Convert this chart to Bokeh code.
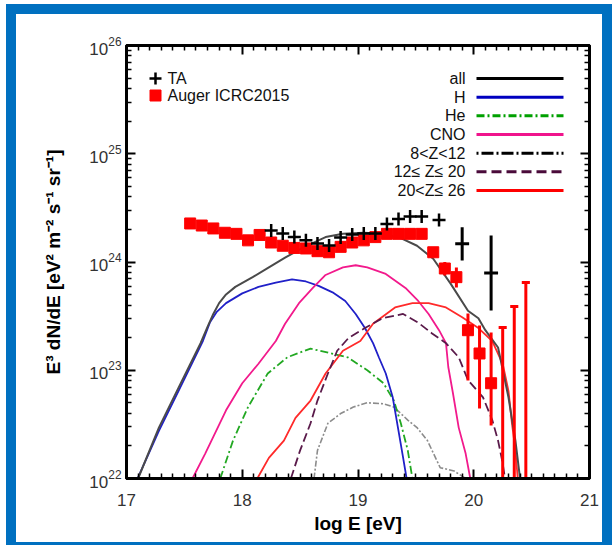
from bokeh.plotting import figure
from bokeh.models import FixedTicker, LinearAxis, LogAxis
from bokeh.embed import file_html
from bokeh.resources import INLINE
from bokeh.core.properties import value

# ---------------- data (log10 E [eV], log10 E^3 dN/dE) ----------------
all_x = [17.10, 17.28, 17.45, 17.64, 17.70, 17.75, 17.80, 17.86, 17.94, 18.09, 18.23, 18.37,
         18.52, 18.72, 18.87, 19.05, 19.22, 19.37, 19.51, 19.65, 19.80, 19.95, 20.04, 20.10,
         20.21, 20.30, 20.36, 20.40]
all_ly = [22.0, 22.47, 22.84, 23.25, 23.40, 23.52, 23.62, 23.70, 23.77, 23.86, 23.95, 24.04,
          24.13, 24.23, 24.26, 24.27, 24.26, 24.22, 24.15, 24.03, 23.80, 23.55, 23.48, 23.37,
          23.21, 22.75, 22.35, 22.0]

h_x = [17.10, 17.28, 17.45, 17.66, 17.72, 17.78, 17.86, 18.00, 18.14, 18.29, 18.43, 18.55,
       18.66, 18.78, 18.89, 18.98, 19.06, 19.13, 19.18, 19.24, 19.30, 19.35, 19.39, 19.42]
h_ly = [22.01, 22.44, 22.81, 23.27, 23.44, 23.54, 23.62, 23.71, 23.77, 23.81, 23.84, 23.82,
        23.78, 23.72, 23.64, 23.52, 23.39, 23.25, 23.12, 22.97, 22.75, 22.44, 22.19, 22.0]

he_x = [17.81, 17.92, 18.05, 18.22, 18.39, 18.59, 18.79, 18.91, 19.08, 19.22, 19.31, 19.37,
        19.43, 19.47]
he_ly = [22.0, 22.35, 22.66, 22.97, 23.12, 23.20, 23.15, 23.12, 23.00, 22.88, 22.72, 22.51,
         22.26, 22.0]

cno_x = [17.57, 17.68, 17.86, 18.00, 18.14, 18.29, 18.37, 18.49, 18.61, 18.72, 18.87, 18.98,
         19.08, 19.24, 19.41, 19.52, 19.61, 19.70, 19.76, 19.78, 19.82, 19.87, 19.93, 19.97]
cno_ly = [22.0, 22.23, 22.63, 22.88, 23.06, 23.27, 23.43, 23.62, 23.76, 23.88, 23.95, 23.97,
          23.95, 23.89, 23.76, 23.64, 23.52, 23.37, 23.25, 23.03, 22.79, 22.47, 22.23, 22.0]

z8_x = [18.62, 18.65, 18.74, 18.85, 18.96, 19.08, 19.22, 19.31, 19.43, 19.51, 19.60, 19.71,
        19.83, 19.93]
z8_ly = [22.0, 22.26, 22.51, 22.60, 22.66, 22.70, 22.69, 22.66, 22.54, 22.47, 22.35, 22.10,
         22.07, 22.0]

z12_x = [18.42, 18.50, 18.59, 18.65, 18.74, 18.82, 18.92, 19.06, 19.21, 19.39, 19.52, 19.64,
         19.76, 19.87, 19.95, 20.08, 20.16, 20.21, 20.25, 20.27]
z12_ly = [22.0, 22.26, 22.51, 22.72, 22.97, 23.18, 23.30, 23.39, 23.48, 23.52, 23.44, 23.34,
          23.25, 23.12, 22.91, 22.75, 22.54, 22.35, 22.14, 22.0]

z20_x = [18.13, 18.23, 18.36, 18.46, 18.59, 18.72, 18.87, 19.02, 19.13, 19.32, 19.47, 19.61,
         19.76, 19.90, 20.04, 20.16, 20.25, 20.30, 20.33, 20.36, 20.38]
z20_ly = [22.0, 22.19, 22.35, 22.56, 22.72, 22.97, 23.18, 23.27, 23.43, 23.58, 23.62, 23.62,
          23.58, 23.49, 23.39, 23.27, 23.06, 22.81, 22.51, 22.26, 22.0]

auger_x = [17.55, 17.65, 17.75, 17.85, 17.95, 18.05, 18.15, 18.25, 18.35, 18.45, 18.55, 18.65,
           18.75, 18.85, 18.95, 19.05, 19.15, 19.25, 19.35, 19.45, 19.55, 19.65, 19.75, 19.85,
           19.95, 20.05, 20.15]
auger_ly = [24.356, 24.337, 24.31, 24.27, 24.26, 24.20, 24.25, 24.18, 24.15, 24.13, 24.125,
            24.10, 24.09, 24.14, 24.18, 24.20, 24.23, 24.26, 24.26, 24.26, 24.26, 24.09, 23.94,
            23.86, 23.37, 23.155, 22.88]
auger_err_x = [19.75, 19.85, 19.95, 20.05, 20.15]
auger_err_lo = [23.875, 23.765, 22.905, 22.647, 22.49]
auger_err_hi = [24.00, 23.95, 23.524, 23.413, 23.349]
auger_ul_x = [20.25, 20.35, 20.45]
auger_ul_top = [23.395, 23.589, 23.81]

ta_x = [18.25, 18.35, 18.45, 18.55, 18.65, 18.75, 18.85, 18.95, 19.05, 19.15, 19.25, 19.35,
        19.45, 19.55, 19.70, 19.90, 20.15]
ta_ly = [24.291, 24.263, 24.231, 24.20, 24.171, 24.152, 24.226, 24.254, 24.263, 24.263,
         24.351, 24.397, 24.42, 24.42, 24.388, 24.18, 23.995]
ta_err_x = [19.90, 20.15]
ta_err_lo = [24.015, 23.552]
ta_err_hi = [24.32, 24.245]

x_ticks = [17, 18, 19, 20, 21]
y_ticks = [1e22, 1e23, 1e24, 1e25, 1e26]

# ---------------- layout helpers ----------------
L, R, T, B = 126, 589, 45, 478          # frame in pixels
XPX = (R - L) / 4
YPX = (B - T) / 4
def px2x(px):
    return 17 + (px - L) / XPX
def py2y(py):
    return 10 ** (26 - (py - T) / YPX)

def pw(a):
    return [10 ** v for v in a]

p = figure(width=616, height=545, x_range=(17, 21), y_range=(1e22, 1e26),
           y_axis_type="log", output_backend="svg", toolbar_location=None,
           min_border_left=L, min_border_right=616 - R, min_border_top=T,
           min_border_bottom=545 - B)
p.xgrid.grid_line_alpha = 0
p.ygrid.grid_line_alpha = 0
p.outline_line_color = "black"
p.outline_line_width = 3

x_minor = [round(17 + 0.1 * k, 2) for k in range(41) if k % 10 != 0]
y_minor = [m * 10.0 ** e for e in range(22, 26) for m in range(2, 10)]

def style_axis(ax):
    ax.axis_line_width = 3
    ax.major_tick_in = 9
    ax.major_tick_out = 0
    ax.minor_tick_in = 5
    ax.minor_tick_out = 0
    ax.major_tick_line_width = 2
    ax.minor_tick_line_width = 1.5
    ax.major_label_text_font_size = "17px"
    ax.major_label_text_color = "#333333"
    ax.axis_label_text_font_style = "bold"
    ax.axis_label_text_font_size = "19px"
    ax.axis_label_text_color = "black"

xa = p.xaxis[0]
xa.ticker = FixedTicker(ticks=list(x_ticks), minor_ticks=x_minor)
style_axis(xa)
xa.axis_label = "log E [eV]"
xa.major_label_standoff = 15
xa.axis_label_standoff = 4

ya = p.yaxis[0]
ya.ticker = FixedTicker(ticks=list(y_ticks), minor_ticks=y_minor)
style_axis(ya)
ya.axis_label = "E\u00b3 dN/dE [eV\u00b2 m\u207b\u00b2 s\u207b\u00b9 sr\u207b\u00b9]"
ya.major_label_standoff = 5
ya.axis_label_standoff = 22

top_ax = LinearAxis(ticker=FixedTicker(ticks=list(x_ticks), minor_ticks=x_minor))
style_axis(top_ax)
top_ax.major_label_text_font_size = "1px"
top_ax.major_label_text_color = None
top_ax.major_label_standoff = 0
p.add_layout(top_ax, "above")
right_ax = LogAxis(ticker=FixedTicker(ticks=list(y_ticks), minor_ticks=y_minor))
style_axis(right_ax)
right_ax.major_label_text_font_size = "1px"
right_ax.major_label_text_color = None
right_ax.major_label_standoff = 0
p.add_layout(right_ax, "right")

# ---------------- model curves ----------------
p.line(z8_x, pw(z8_ly), line_color="#8c8c8c", line_width=1.6, line_dash="6 2 2 2")
p.line(he_x, pw(he_ly), line_color="#22a822", line_width=1.8, line_dash="8 3 2 3")
p.line(h_x, pw(h_ly), line_color="#2020c8", line_width=1.8)
p.line(cno_x, pw(cno_ly), line_color="#f21a8c", line_width=1.8)
p.line(z20_x, pw(z20_ly), line_color="#ff2a2a", line_width=1.8)
p.line(z12_x, pw(z12_ly), line_color="#5a1a4a", line_width=1.8, line_dash="9 4")
p.line(all_x, pw(all_ly), line_color="#4a4a4a", line_width=2.0)

# ---------------- data points ----------------
p.segment(x0=auger_err_x, y0=pw(auger_err_lo), x1=auger_err_x, y1=pw(auger_err_hi),
          line_color="red", line_width=3)
p.segment(x0=auger_ul_x, y0=[1e21] * len(auger_ul_x), x1=auger_ul_x, y1=pw(auger_ul_top),
          line_color="red", line_width=3)
p.segment(x0=[v - 0.035 for v in auger_ul_x], y0=pw(auger_ul_top),
          x1=[v + 0.035 for v in auger_ul_x], y1=pw(auger_ul_top),
          line_color="red", line_width=3)
p.scatter(auger_x, pw(auger_ly), marker="square", size=11, fill_color="red",
          line_color="red")

ta_mid = [(a + b) / 2 for a, b in zip(ta_err_lo, ta_err_hi)]
p.segment(x0=ta_err_x, y0=pw(ta_err_lo), x1=ta_err_x, y1=pw(ta_err_hi),
          line_color="black", line_width=3)
p.segment(x0=[v - 0.06 for v in ta_err_x], y0=pw(ta_mid),
          x1=[v + 0.06 for v in ta_err_x], y1=pw(ta_mid),
          line_color="black", line_width=3)
p.scatter(ta_x[:-2], pw(ta_ly[:-2]), marker="cross", size=13, line_color="black",
          line_width=2.5)

# ---------------- legends ----------------
p.scatter([px2x(155)], [py2y(78)], marker="cross", size=12, line_color="black", line_width=2.5)
p.scatter([px2x(155)], [py2y(95)], marker="square", size=11, fill_color="red", line_color="red")
p.text([px2x(167), px2x(167)], [py2y(78), py2y(95)], text=["TA", "Auger  ICRC2015"],
       text_font_size="16px", text_baseline="middle", text_color="#111111")

leg_labels = ["all", "H", "He", "CNO", "8<Z<12", "12\u2264 Z\u2264 20", "20<Z\u2264 26"]
leg_colors = ["black", "#0000c0", "#00a000", "#f0148c", "black", "#4a0a3a", "#ff0000"]
leg_dash = ["solid", "solid", "8 3 2 3", "solid", "2 3 12 3", "10 5", "solid"]
rows = [78 + 18.67 * i for i in range(len(leg_labels))]
p.text([px2x(465)] * len(rows), [py2y(r) for r in rows], text=leg_labels,
       text_font_size="16px", text_align="right", text_baseline="middle",
       text_color="#111111")
for r, c, d in zip(rows, leg_colors, leg_dash):
    p.line([px2x(476), px2x(563)], [py2y(r), py2y(r)], line_color=c, line_width=3,
           line_dash=d)

# ---------------- blue slide frame (page decoration) ----------------
page_template = """
{% block postamble %}
<style>
  .slide-frame { position: fixed; left: 6px; top: 4px; width: 606px; height: 548px;
                 box-sizing: border-box; border: 10px solid #0070c0;
                 pointer-events: none; z-index: 1000; }
</style>
{% endblock %}
{% block inner_body %}
{{ super() }}
<div class="slide-frame"></div>
{% endblock %}
"""

open("out.html", "w", encoding="utf-8").write(file_html(p, INLINE, template=page_template))
